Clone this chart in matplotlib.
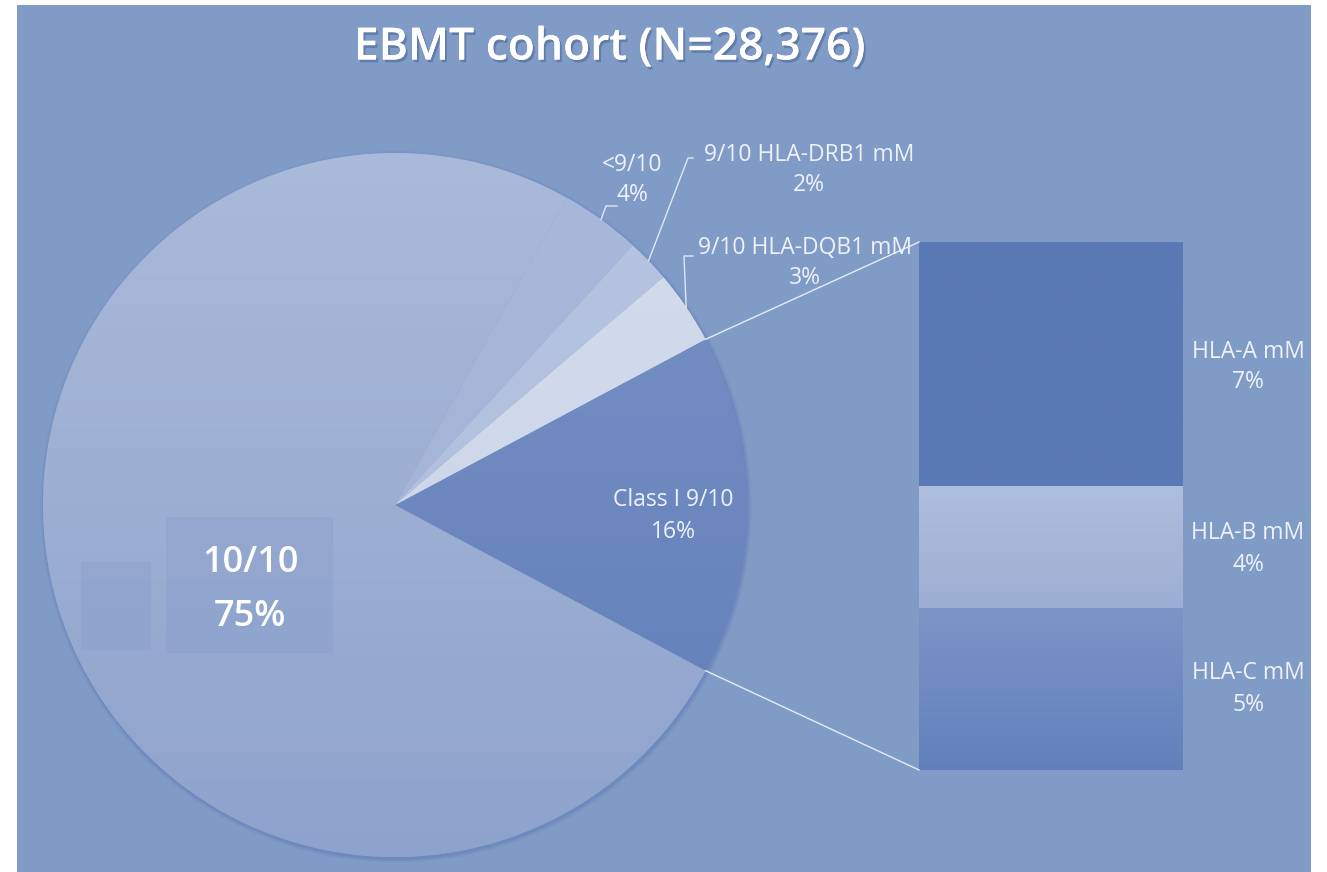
import numpy as np
import matplotlib
matplotlib.use("Agg")
import matplotlib.pyplot as plt
import matplotlib.patheffects as pe
from matplotlib.patches import Rectangle, Circle
from matplotlib.colors import LinearSegmentedColormap

# ---------------- data ----------------
title = "EBMT cohort (N=28,376)"
pie_labels = ["Class I 9/10", "9/10 HLA-DQB1 mM", "9/10 HLA-DRB1 mM", "<9/10", "10/10"]
pie_values = [15.6, 3.4, 2.0, 3.7, 75.3]
bar_labels = ["HLA-C mM", "HLA-B mM", "HLA-A mM"]   # bottom -> top
bar_values = [4.8, 3.6, 7.2]

# ---------------- style ----------------
W, H = 1327, 872
BG = "#819bc7"
TXT = "#eef2f8"
pie_grad = [("#7a93c6", "#5f7db8"),   # Class I
            ("#d3dcec", "#c9d3e7"),   # DQB1
            ("#b6c4e0", "#aebddc"),   # DRB1
            ("#a8b8da", "#a0b2d6"),   # <9/10
            ("#aabada", "#8ea3cc")]   # 10/10
bar_grad = [("#7c95c7", "#6180bb"),   # C
            ("#aebedd", "#9caed3"),   # B
            ("#5a7ab5", "#5a7ab5")]   # A

fig = plt.figure(figsize=(W / 100, H / 100), dpi=100)
fig.patch.set_facecolor("white")
ax = fig.add_axes([0, 0, 1, 1])
ax.set_xlim(0, W)
ax.set_ylim(0, H)
ax.set_aspect("equal")
ax.axis("off")

def Y(ypx):
    return H - ypx

# panel background
ax.add_patch(Rectangle((17, 0), 1311 - 17, Y(5), facecolor=BG, edgecolor="none", zorder=0))

def grad_fill(patch, c_top, c_bot, x0, x1, y0, y1, z):
    cmap = LinearSegmentedColormap.from_list("g", [c_bot, c_top])
    g = np.linspace(0, 1, 256).reshape(-1, 1)
    im = ax.imshow(g, cmap=cmap, extent=(x0, x1, y0, y1), origin="lower",
                   aspect="auto", zorder=z, interpolation="bicubic")
    im.set_clip_path(patch)

# ---------------- pie ----------------
cx, cy, R = 395, Y(505), 352
start = -pie_values[0] / 100 * 360 / 2

# soft shadow ring
for i, a in enumerate([0.10, 0.18, 0.3]):
    ax.add_patch(Circle((cx + 1, cy - 2), R + 4 - i * 1.5, facecolor="#5a78b4",
                        edgecolor="none", alpha=a, zorder=1))

wedges, _ = ax.pie(pie_values, startangle=start, counterclock=True,
                   center=(cx, cy), radius=R, frame=False,
                   wedgeprops=dict(edgecolor="none", linewidth=0))
ax.set_xlim(0, W)
ax.set_ylim(0, H)
for w, (ct, cb) in zip(wedges, pie_grad):
    w.set_facecolor(cb)
    w.set_zorder(2)
    grad_fill(w, ct, cb, cx - R, cx + R, cy - R, cy + R, 3)

# faint overlay boxes in the 10/10 slice
ax.add_patch(Rectangle((166, Y(653)), 333 - 166, 653 - 517, facecolor="#7f98c6",
                       alpha=0.25, edgecolor="none", zorder=4))
ax.add_patch(Rectangle((81, Y(650)), 151 - 81, 650 - 562, facecolor="#7f98c6",
                       alpha=0.25, edgecolor="none", zorder=4))

# ---------------- bar ----------------
bx0, bx1 = 919, 1183
btop, bbot = Y(242), Y(770)
scale = (btop - bbot) / sum(bar_values)
bottoms = bbot + scale * np.concatenate([[0], np.cumsum(bar_values)[:-1]])
bars = ax.bar([(bx0 + bx1) / 2] * 3, np.array(bar_values) * scale, bottom=bottoms,
              width=bx1 - bx0, edgecolor="none", zorder=2)
for b, (ct, cb) in zip(bars, bar_grad):
    b.set_facecolor(cb)
    x, y0 = b.get_x(), b.get_y()
    grad_fill(b, ct, cb, x, x + b.get_width(), y0, y0 + b.get_height(), 3)

# connector lines
t1 = np.deg2rad(wedges[0].theta1)
t2 = np.deg2rad(wedges[0].theta2)
ax.plot([cx + R * np.cos(t2), bx0], [cy + R * np.sin(t2), btop], color="#e6ebf5",
        lw=1.0, zorder=6)
ax.plot([cx + R * np.cos(t1), bx0], [cy + R * np.sin(t1), bbot], color="#e6ebf5",
        lw=1.0, zorder=6)

# ---------------- labels ----------------
FONT = "Open Sans"
fs = 16.5

def pct(v):
    return f"{int(round(v))}%"

# slice labels with leaders
leader_end = {1: (684, 256, 693), 2: (688, 158, 693), 3: (606, 206, 617)}
label_pos = {0: (673, 500, 532), 1: (805, 248, 278), 2: (809, 155, 185),
             3: (632, 165, 195), }
for i in [1, 2, 3]:
    w = wedges[i]
    tm = np.deg2rad((w.theta1 + w.theta2) / 2)
    px, py = cx + R * np.cos(tm), cy + R * np.sin(tm)
    ex, ey, hx = leader_end[i]
    ax.plot([px, ex, hx], [py, Y(ey), Y(ey)], color="#dfe6f2", lw=1.0, zorder=6)

for i, (x, y1, y2) in label_pos.items():
    ax.text(x, Y(y1), pie_labels[i], color=TXT, fontsize=fs, family=FONT,
            ha="center", va="center", zorder=7)
    ax.text(x, Y(y2), pct(pie_values[i]), color=TXT, fontsize=fs, family=FONT,
            ha="center", va="center", zorder=7)

# 10/10 label
ax.text(250, Y(563), pie_labels[4], color="white", fontsize=26, family=FONT,
        fontweight="semibold", ha="center", va="center", zorder=7)
ax.text(250, Y(617), pct(pie_values[4]), color="white", fontsize=26, family=FONT,
        fontweight="semibold", ha="center", va="center", zorder=7)

# bar labels
bar_label_y = [(673, 705), (533, 565), (352, 382)]
for lab, v, (y1, y2) in zip(bar_labels, bar_values, bar_label_y):
    ax.text(1248, Y(y1), lab, color=TXT, fontsize=fs, family=FONT,
            ha="center", va="center", zorder=7)
    ax.text(1248, Y(y2), pct(v), color=TXT, fontsize=fs, family=FONT,
            ha="center", va="center", zorder=7)

# title
ax.text(610, Y(48), title, color="white", fontsize=32, fontweight="semibold",
        family=FONT, ha="center", va="center", zorder=8,
        path_effects=[pe.withSimplePatchShadow(offset=(1.5, -2), shadow_rgbFace="#2d4678",
                                               alpha=0.35), pe.Normal()])

fig.savefig("out.png", dpi=100, facecolor="white")
